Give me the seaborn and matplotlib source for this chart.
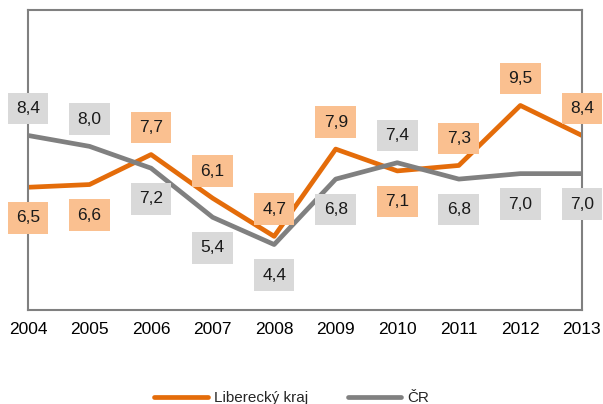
import matplotlib
matplotlib.use("Agg")
import matplotlib.pyplot as plt
import pandas as pd
import seaborn as sns

years = [2004, 2005, 2006, 2007, 2008, 2009, 2010, 2011, 2012, 2013]
liberec = [6.5, 6.6, 7.7, 6.1, 4.7, 7.9, 7.1, 7.3, 9.5, 8.4]
cr = [8.4, 8.0, 7.2, 5.4, 4.4, 6.8, 7.4, 6.8, 7.0, 7.0]
series_names = ["Liberecký kraj", "ČR"]

df = pd.DataFrame({
    "rok": years * 2,
    "hodnota": liberec + cr,
    "rada": [series_names[0]] * len(years) + [series_names[1]] * len(years),
})

sns.set_theme(style="white")
plt.rcParams["font.family"] = ["Liberation Sans", "DejaVu Sans"]

orange = "#E46C0A"
grey = "#808080"
palette = {series_names[0]: orange, series_names[1]: grey}
box_colors = {series_names[0]: "#FAC090", series_names[1]: "#D9D9D9"}

fig = plt.figure(figsize=(6.03, 4.04), dpi=100)
ax = fig.add_axes([0.0464, 0.2327, 0.9186, 0.7425])
sns.lineplot(data=df, x="rok", y="hodnota", hue="rada", palette=palette,
             linewidth=3.4, ax=ax, legend=True)

ax.set_xlim(2004, 2013)
ax.set_ylim(2, 13)
ax.set_xticks(years)
ax.set_xticklabels([str(y) for y in years], fontsize=12.5, color="#000000")
ax.set_yticks([])
ax.tick_params(axis="x", length=0, pad=9)
ax.set_xlabel("")
ax.set_ylabel("")
for s in ax.spines.values():
    s.set_color(grey)
    s.set_linewidth(1.5)

# data labels: higher value above the line, lower below
for i, yr in enumerate(years):
    vals = {series_names[0]: liberec[i], series_names[1]: cr[i]}
    hi = max(vals, key=vals.get)
    for name, v in vals.items():
        dy = 19.5 if name == hi else -22
        ax.annotate(f"{v:.1f}".replace(".", ","), (yr, v), xytext=(0, dy),
                    textcoords="offset points", ha="center", va="center",
                    fontsize=12.5, color="#1a1a1a", annotation_clip=False,
                    bbox=dict(boxstyle="square,pad=0.48", fc=box_colors[name], ec="none"))

leg = ax.legend(loc="upper center", bbox_to_anchor=(0.476, -0.225), ncol=2,
                frameon=False, fontsize=11, handlelength=3.5, columnspacing=2.6,
                handletextpad=0.4)
for line in leg.get_lines():
    line.set_linewidth(3.4)

plt.savefig("out.png", dpi=100)
plt.close()
